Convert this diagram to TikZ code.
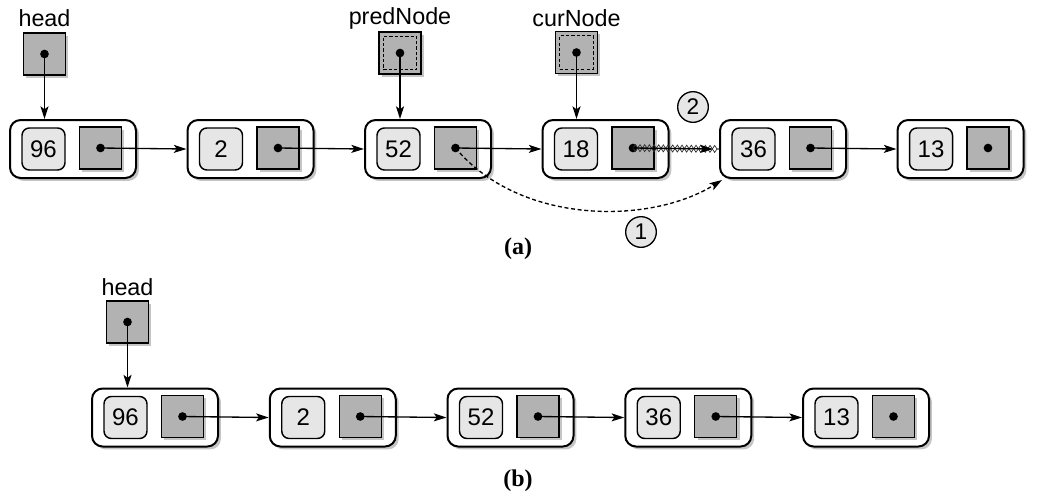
\documentclass[tikz,border=0pt]{standalone}
\usepackage{fontspec}
\setmainfont{Liberation Sans}
\newfontfamily\capfont{Liberation Serif}
\usetikzlibrary{shadows,decorations.pathmorphing,arrows.meta,calc}
\definecolor{ptrgray}{RGB}{178,178,178}
\definecolor{valgray}{RGB}{230,230,230}
\begin{document}
\begin{tikzpicture}[x=0.75pt,y=-0.75pt,
  shad/.style={drop shadow={shadow xshift=2.2pt,shadow yshift=-2.2pt,fill=black!45,opacity=0.5}},
  outer/.style={draw,line width=1.5pt,rounded corners=8pt,fill=white,minimum width=94.5pt,minimum height=43.5pt,inner sep=0pt,shad},
  valbox/.style={draw,line width=1.1pt,rounded corners=5.5pt,fill=valgray,minimum width=32.25pt,minimum height=31.5pt,inner sep=0pt,font=\fontsize{18}{18}\selectfont},
  ptrbox/.style={draw,line width=1.1pt,fill=ptrgray,minimum size=31.5pt,inner sep=0pt,shad},
  dashin/.style={draw,line width=0.9pt,dash pattern=on 2.4pt off 1.6pt,minimum size=25pt,inner sep=0pt},
  lbl/.style={font=\fontsize{17.5}{17.5}\selectfont,inner sep=0pt},
  circ/.style={circle,draw,line width=1pt,fill=valgray,minimum size=23pt,inner sep=0pt,font=\fontsize{17}{17}\selectfont},
  captext/.style={font=\capfont\bfseries\fontsize{18}{18}\selectfont,inner sep=0pt},
  tip/.style={-{Stealth[length=9.5pt,width=6pt,inset=2.2pt]}},
  arr/.style={line width=1pt,tip},
  dot/.style={circle,fill=black,minimum size=6.5pt,inner sep=0pt}
]
\useasboundingbox (0,0) rectangle (1037,493);
% ---------- (a) ----------
\foreach \i/\x/\v in {1/10/96,2/187.5/2,3/365/52,4/542.5/18,5/720/36,6/897.5/13}{
  \node[outer] (a\i) at (\x+63,149) {};
  \node[valbox] (av\i) at (\x+33.5,149) {\v};
  \node[ptrbox] (ap\i) at (\x+90.5,148) {};
  \node[dot] (ad\i) at (ap\i.center) {};
}
\node[ptrbox] (head) at (44.5,54) {};
\node[dot] (headd) at (head.center) {};
\node[lbl] (headl) at (44.5,18) {head};
\node[ptrbox] (pred) at (400,53) {};
\node[dashin] (predin) at (pred.center) {};
\node[dot] (predd) at (pred.center) {};
\node[lbl] (predl) at (400,18) {predNode};
\node[ptrbox] (cur) at (576.5,52.5) {};
\node[dashin] (curin) at (cur.center) {};
\node[dot] (curd) at (cur.center) {};
\node[lbl] (curl) at (576.5,18) {curNode};
\draw[arr] (headd.center) -- (headd.center |- a1.north);
\draw[arr] (predd.center) -- (predd.center |- a3.north);
\draw[arr] (curd.center) -- (curd.center |- a4.north);
\draw[arr] (ad1.center) -- (a2.west);
\draw[arr] (ad2.center) -- (a3.west);
\draw[arr] (ad3.center) -- (a4.west);
\draw[arr] (ad5.center) -- (a6.west);
\draw[line width=0.55pt,black!80,decorate,decoration={zigzag,segment length=7pt,amplitude=2.6pt}] (ad4.center) -- (a5.west);
\draw[line width=0.55pt,black!80,decorate,decoration={zigzag,mirror,segment length=7pt,amplitude=2.6pt}] (ad4.center) -- (a5.west);
\draw[arr] (ad4.center) -- ($(a5.west)+(-6,0)$);
\coordinate (tgt) at ($(a5.south west)+(3,1)$);
\draw[line width=1pt,dash pattern=on 3pt off 2pt,tip] (ad3.center) .. controls (520,225) and (650,225) .. (tgt);
\node[circ] (c2) at (693,107) {2};
\node[circ] (c1) at (641,232) {1};
\node[captext] (capa) at (518,249) {(a)};
% ---------- (b) ----------
\foreach \i/\x/\v in {1/92/96,2/269.75/2,3/447.5/52,4/625.25/36,5/803/13}{
  \node[outer] (b\i) at (\x+63,417.5) {};
  \node[valbox] (bv\i) at (\x+33.5,417.5) {\v};
  \node[ptrbox] (bp\i) at (\x+90.5,416.5) {};
  \node[dot] (bd\i) at (bp\i.center) {};
}
\foreach \i/\j in {1/2,2/3,3/4,4/5}{
  \draw[arr] (bd\i.center) -- (b\j.west);
}
\node[ptrbox] (bhead) at (127.5,322) {};
\node[dot] (bheadd) at (bhead.center) {};
\node[lbl] (bheadl) at (127.5,287) {head};
\draw[arr] (bheadd.center) -- (bheadd.center |- b1.north);
\node[captext] (capb) at (518,481) {(b)};
\end{tikzpicture}
\end{document}
